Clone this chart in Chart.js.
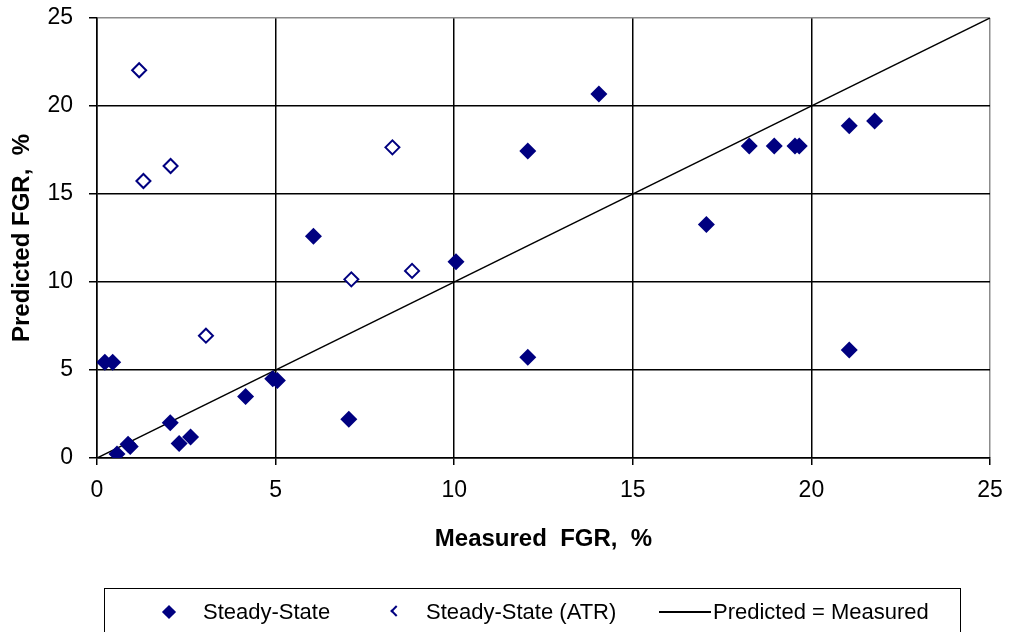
<!DOCTYPE html>
<html>
<head>
<meta charset="utf-8">
<script src="https://cdn.jsdelivr.net/npm/chart.js@4/dist/chart.umd.min.js"></script>
<style>
  body { margin: 0; background: #fff; }
  #wrap { position: relative; width: 1011px; height: 632px; overflow: hidden; }
  .legend {
    position: absolute; left: 104px; top: 588px; width: 857px; height: 60px;
    border: 1.5px solid #000; box-sizing: border-box;
    font-family: "Liberation Sans", Arial, sans-serif; font-size: 22px; color: #000;
  }
  .legend span { position: absolute; top: 10px; line-height: 26px; white-space: nowrap; }
  .legend .mk { position: absolute; }
</style>
</head>
<body>
<div id="wrap">
  <canvas id="fgrChart" width="1011" height="632"></canvas>
  <div class="legend"></div>
</div>
<script>
// Steady-State (filled diamonds)
const ssX = [0.22, 0.44, 0.56, 0.87, 0.93, 2.05, 2.3, 2.62, 4.16, 4.92, 5.05, 6.06, 7.05, 10.05, 12.06, 12.06, 14.05, 17.06, 18.26, 18.96, 19.54, 19.66, 21.06, 21.06, 21.77];
const ssY = [5.44, 5.44, 0.23, 0.78, 0.65, 2.0, 0.83, 1.2, 3.5, 4.5, 4.4, 12.6, 2.2, 11.15, 17.44, 5.72, 20.68, 13.26, 17.73, 17.73, 17.73, 17.73, 18.88, 6.14, 19.15];
// Steady-State (ATR) (open diamonds)
const atrX = [1.18, 1.3, 2.06, 3.05, 7.12, 8.27, 8.82];
const atrY = [22.03, 15.74, 16.59, 6.95, 10.15, 17.65, 10.63];
// Predicted = Measured line
const refX = [0, 25];
const refY = [0, 25];
const ticks = [0, 5, 10, 15, 20, 25];

const navy = '#000080';
const toPoints = (xs, ys) => xs.map((x, i) => ({ x: x, y: ys[i] }));

const gridColor = ctx => (ctx.tick && ctx.tick.value === 25) ? '#8c8c8c' : '#000';

new Chart(document.getElementById('fgrChart'), {
  type: 'scatter',
  data: {
    datasets: [
      {
        label: 'Steady-State',
        data: toPoints(ssX, ssY),
        pointStyle: 'rectRot', pointRadius: 8.5, pointHoverRadius: 8.5,
        backgroundColor: navy, borderColor: navy, borderWidth: 0
      },
      {
        label: 'Steady-State (ATR)',
        data: toPoints(atrX, atrY),
        pointStyle: 'rectRot', pointRadius: 7, pointHoverRadius: 7,
        backgroundColor: '#fff', borderColor: navy, borderWidth: 2
      },
      {
        label: 'Predicted = Measured',
        type: 'line',
        data: toPoints(refX, refY),
        borderColor: '#000', borderWidth: 1.5, pointRadius: 0, fill: false
      }
    ]
  },
  options: {
    responsive: false,
    animation: false,
    layout: { padding: { left: 0, top: 18, right: 21, bottom: 0 } },
    plugins: { legend: { display: false }, tooltip: { enabled: false } },
    scales: {
      x: {
        type: 'linear', min: 0, max: 25,
        afterBuildTicks: s => { s.ticks = ticks.map(v => ({ value: v })); },
        afterFit: s => { s.height = 174; s.paddingLeft = 0; s.paddingRight = 0; },
        grid: { color: gridColor, lineWidth: 1.5, tickColor: '#000', tickLength: 7 },
        border: { color: '#000', width: 1.5 },
        ticks: { color: '#000', padding: 12, maxRotation: 0,
                 font: { family: 'Liberation Sans', size: 23 } },
        title: { display: true, text: 'Measured  FGR,  %', color: '#000',
                 padding: { top: 0, bottom: 78 },
                 font: { family: 'Liberation Sans', size: 24, weight: 'bold' } }
      },
      y: {
        type: 'linear', min: 0, max: 25,
        afterBuildTicks: s => { s.ticks = ticks.map(v => ({ value: v })); },
        afterFit: s => { s.width = 97; s.paddingTop = 0; s.paddingBottom = 0; },
        grid: { color: gridColor, lineWidth: 1.5, tickColor: '#000', tickLength: 8 },
        border: { color: '#000', width: 1.5 },
        ticks: { color: '#000', padding: 16,
                 font: { family: 'Liberation Sans', size: 23 } },
        title: { display: true, text: 'Predicted FGR,  %', color: '#000',
                 padding: { top: 8, bottom: 0 },
                 font: { family: 'Liberation Sans', size: 24, weight: 'bold' } }
      }
    }
  }
});

// Legend, Excel style box under the chart
const legendLabels = ['Steady-State', 'Steady-State (ATR)', 'Predicted = Measured'];
const markerLeft = [64, 289, 554];
const textLeft = [98, 321, 608];
const markers = [
  `<div class="mk" style="left:${markerLeft[0] - 5}px;top:18px;width:10px;height:10px;background:${navy};transform:rotate(45deg)"></div>`,
  `<div class="mk" style="left:${markerLeft[1] - 2}px;top:18px;width:6px;height:6px;border-left:2px solid ${navy};border-bottom:2px solid ${navy};transform:rotate(45deg)"></div>`,
  `<div class="mk" style="left:${markerLeft[2]}px;top:22px;width:52px;height:0;border-top:2px solid #000"></div>`
];
document.querySelector('.legend').innerHTML = legendLabels.map((l, i) =>
  markers[i] + `<span style="left:${textLeft[i]}px">${l}</span>`
).join('');
</script>
</body>
</html>
